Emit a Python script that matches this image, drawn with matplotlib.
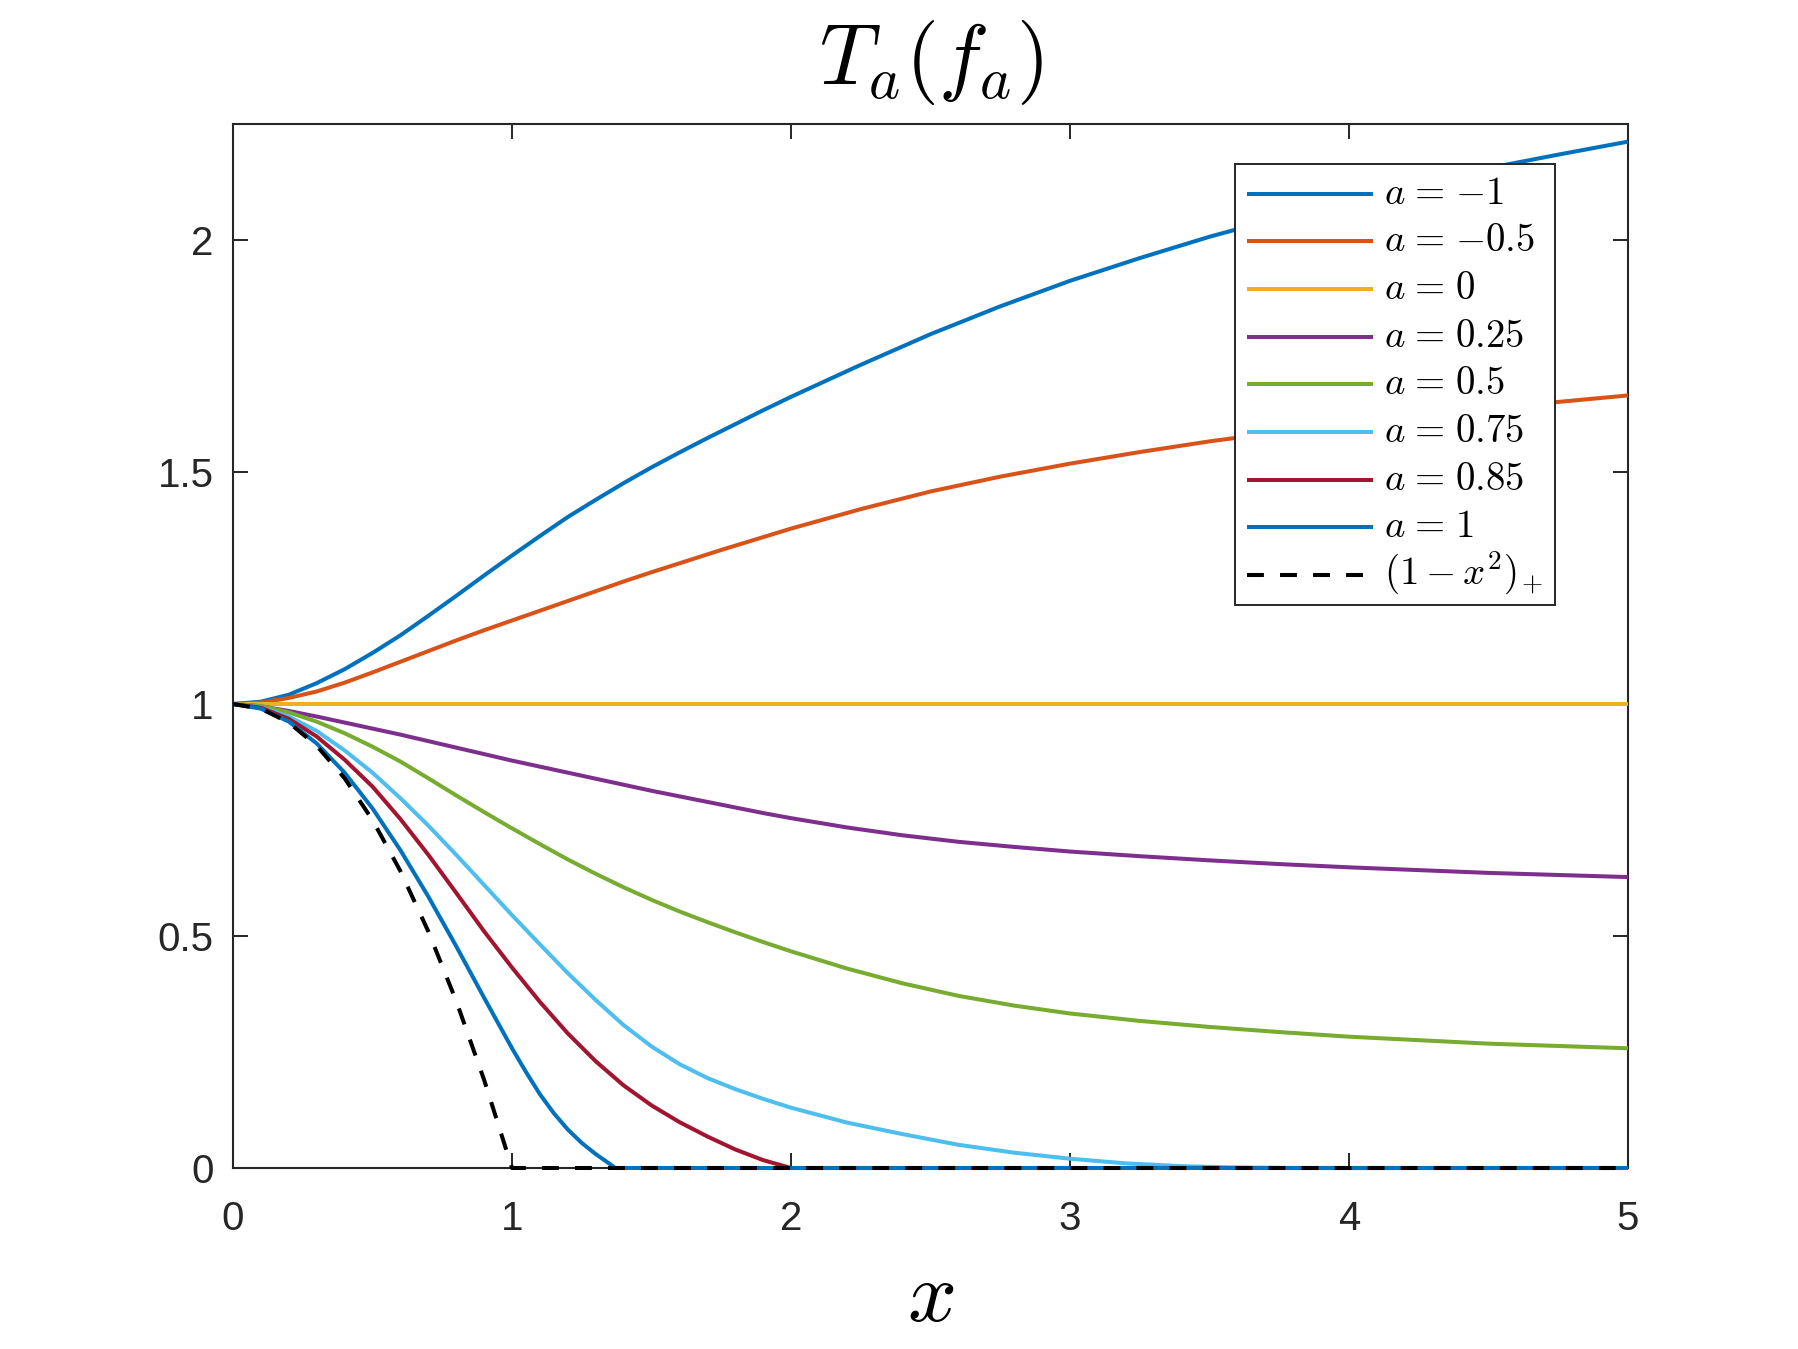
import matplotlib
matplotlib.use('Agg')
import matplotlib.pyplot as plt
from matplotlib.transforms import Bbox

plt.rcParams['font.family'] = ['Liberation Sans', 'DejaVu Sans']
plt.rcParams['mathtext.fontset'] = 'cm'

# values
x_m1 = [0, 0.1, 0.2, 0.3, 0.4, 0.5, 0.6, 0.7, 0.8, 0.9, 1.0, 1.1, 1.2, 1.3, 1.4, 1.5,
        1.6, 1.7, 1.8, 1.9, 2.0, 2.25, 2.5, 2.75, 3.0, 3.25, 3.5, 3.75, 4.0, 4.25, 4.5,
        4.75, 5.0]
y_m1 = [1.0, 1.005, 1.02, 1.045, 1.075, 1.11, 1.148, 1.19, 1.233, 1.277, 1.32, 1.362, 1.403,
        1.44, 1.476, 1.51, 1.542, 1.573, 1.603, 1.633, 1.662, 1.731, 1.797, 1.857, 1.912,
        1.961, 2.007, 2.048, 2.087, 2.122, 2.155, 2.184, 2.212]

x_m05 = [0, 0.1, 0.2, 0.3, 0.4, 0.5, 0.6, 0.7, 0.8, 0.9, 1.0, 1.1, 1.2, 1.3, 1.4, 1.5,
         1.75, 2.0, 2.25, 2.5, 2.75, 3.0, 3.25, 3.5, 3.75, 4.0, 4.25, 4.5, 4.75, 5.0]
y_m05 = [1.0, 1.003, 1.013, 1.027, 1.046, 1.068, 1.091, 1.114, 1.137, 1.159, 1.18, 1.201,
         1.222, 1.243, 1.264, 1.284, 1.332, 1.378, 1.42, 1.458, 1.49, 1.518, 1.543, 1.566,
         1.586, 1.604, 1.621, 1.636, 1.651, 1.665]

x_0 = [0, 5]
y_0 = [1, 1]

x_025 = [0, 0.1, 0.2, 0.3, 0.4, 0.5, 0.6, 0.7, 0.8, 0.9, 1.0, 1.1, 1.2, 1.3, 1.4, 1.5,
         1.6, 1.7, 1.8, 1.9, 2.0, 2.2, 2.4, 2.6, 2.8, 3.0, 3.25, 3.5, 3.75, 4.0, 4.5, 5.0]
y_025 = [1, 0.995, 0.985, 0.973, 0.96, 0.947, 0.934, 0.92, 0.906, 0.892, 0.878, 0.865,
         0.852, 0.839, 0.826, 0.813, 0.801, 0.789, 0.777, 0.765, 0.754, 0.734, 0.717,
         0.703, 0.692, 0.682, 0.672, 0.663, 0.655, 0.648, 0.636, 0.627]

x_05 = [0, 0.1, 0.2, 0.3, 0.4, 0.5, 0.6, 0.7, 0.8, 0.9, 1.0, 1.1, 1.2, 1.3, 1.4, 1.5,
        1.6, 1.7, 1.8, 1.9, 2.0, 2.2, 2.4, 2.6, 2.8, 3.0, 3.25, 3.5, 3.75, 4.0, 4.5, 5.0]
y_05 = [1, 0.996, 0.982, 0.962, 0.937, 0.908, 0.876, 0.84, 0.803, 0.767, 0.732, 0.698,
        0.665, 0.634, 0.605, 0.578, 0.553, 0.53, 0.508, 0.487, 0.467, 0.43, 0.398, 0.371,
        0.35, 0.333, 0.317, 0.304, 0.293, 0.283, 0.268, 0.258]

x_075 = [0, 0.1, 0.2, 0.3, 0.4, 0.5, 0.6, 0.7, 0.8, 0.9, 1.0, 1.1, 1.2, 1.3, 1.4, 1.5,
         1.6, 1.7, 1.8, 1.9, 2.0, 2.2, 2.4, 2.6, 2.8, 3.0, 3.2, 3.4, 3.6, 3.8, 5.0]
y_075 = [1, 0.993, 0.973, 0.942, 0.90, 0.852, 0.797, 0.738, 0.675, 0.61, 0.545, 0.482,
         0.42, 0.362, 0.308, 0.262, 0.224, 0.194, 0.17, 0.149, 0.13, 0.098, 0.073, 0.05,
         0.033, 0.02, 0.01, 0.004, 0.001, 0, 0]

x_085 = [0, 0.1, 0.2, 0.3, 0.4, 0.5, 0.6, 0.7, 0.8, 0.9, 1.0, 1.1, 1.2, 1.3, 1.4, 1.5,
         1.6, 1.7, 1.8, 1.9, 2.0, 5.0]
y_085 = [1, 0.992, 0.968, 0.93, 0.88, 0.822, 0.752, 0.675, 0.593, 0.51, 0.432, 0.358,
         0.29, 0.23, 0.178, 0.135, 0.099, 0.068, 0.04, 0.017, 0, 0]

x_1 = [0, 0.1, 0.2, 0.3, 0.4, 0.5, 0.6, 0.7, 0.8, 0.9, 1.0, 1.05, 1.1, 1.15, 1.2, 1.25,
       1.3, 1.35, 1.37, 5.0]
y_1 = [1, 0.99, 0.962, 0.915, 0.852, 0.775, 0.685, 0.585, 0.478, 0.367, 0.258, 0.207,
       0.159, 0.118, 0.083, 0.054, 0.03, 0.009, 0, 0]

x_ref = [0, 0.1, 0.2, 0.3, 0.4, 0.5, 0.6, 0.7, 0.8, 0.9, 1.0, 5.0]
y_ref = [1, 0.99, 0.96, 0.91, 0.84, 0.75, 0.64, 0.51, 0.36, 0.19, 0, 0]

eq = r'\hspace{0.1}=\hspace{0.1}'
labels = ['$a' + eq + '{-1}$', '$a' + eq + '{-0.5}$', '$a' + eq + '0$',
          '$a' + eq + '0.25$', '$a' + eq + '0.5$', '$a' + eq + '0.75$',
          '$a' + eq + '0.85$', '$a' + eq + '1$', r'$(1-x^2)\hspace{-0.1}{}_+$']
colors = ['#0072BD', '#D95319', '#EDB120', '#7E2F8E', '#77AC30',
          '#4DBEEE', '#A2142F', '#0072BD']

series = [(x_m1, y_m1), (x_m05, y_m05), (x_0, y_0), (x_025, y_025), (x_05, y_05),
          (x_075, y_075), (x_085, y_085), (x_1, y_1)]

ax_col = '#262626'
lw = 2.9

fig = plt.figure(figsize=(17.99, 13.49), dpi=100)
ax = fig.add_axes([233 / 1799, 181 / 1349, 1395 / 1799, 1044 / 1349])

for (xs, ys), c, lab in zip(series, colors, labels):
    ax.plot(xs, ys, color=c, lw=lw, label=lab, clip_on=False,
            solid_capstyle='butt', solid_joinstyle='round', zorder=3)
ax.plot(x_ref, y_ref, color='k', lw=lw, ls='--', dashes=(4.2, 4.0),
        label=labels[-1], clip_on=False, dash_capstyle='butt', zorder=3)

ax.set_xlim(0, 5)
ax.set_ylim(0, 2.25)
ax.set_xticks([0, 1, 2, 3, 4, 5])
ax.set_yticks([0, 0.5, 1, 1.5, 2])
ax.set_yticklabels(['0', '0.5', '1', '1.5', '2'])

for s in ax.spines.values():
    s.set_linewidth(1.5)
    s.set_color(ax_col)
ax.tick_params(direction='in', length=10.8, width=1.4, color=ax_col,
               labelcolor=ax_col, labelsize=29, top=True, right=True)
ax.tick_params(axis='y', pad=14)
ax.tick_params(axis='x', pad=23)

ax.set_title(r'$T_a(f_a)$', fontsize=61, pad=29, color='k')
ax.set_xlabel(r'$x$', fontsize=62, color='k')
ax.xaxis.set_label_coords(0.5, -0.087)

leg = ax.legend(loc='upper left', bbox_to_anchor=(0.7183, 0.9617), borderaxespad=0,
                fontsize=28, handlelength=3.25, handleheight=0.1, handletextpad=0.28,
                labelspacing=0.3, borderpad=0.3, fancybox=False, framealpha=1)
leg.get_frame().set_edgecolor(ax_col)
leg.get_frame().set_linewidth(1.4)

# give the taller last legend row the same height as the others
try:
    rows = leg._legend_handle_box.get_children()[0].get_children()
    last_box = rows[-1].get_children()[1]
    prev_box = rows[-2].get_children()[1]
    last_get_bbox = last_box.get_bbox

    def even_bbox(renderer):
        b = last_get_bbox(renderer)
        r = prev_box.get_bbox(renderer)
        return Bbox.from_bounds(b.x0, r.y0, b.width, r.height)

    last_box.get_bbox = even_bbox
except Exception:
    pass

fig.savefig('out.png', dpi=100, facecolor='white')
